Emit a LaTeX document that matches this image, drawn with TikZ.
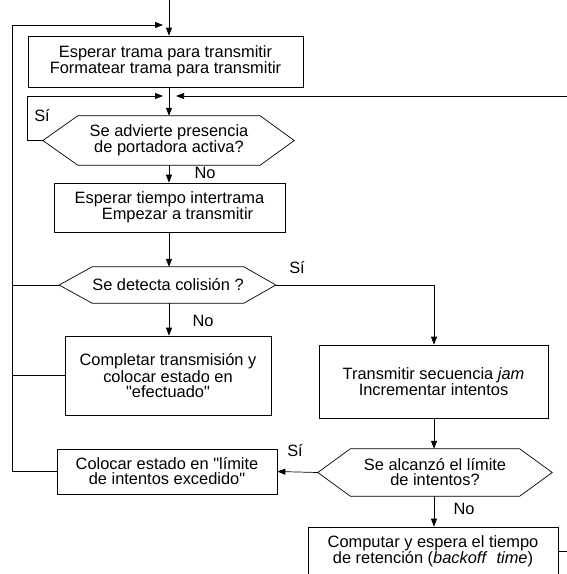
\documentclass[tikz,border=0pt]{standalone}
\usepackage{fontspec}
\setmainfont{Liberation Sans}
\usetikzlibrary{arrows.meta}
\begin{document}
\begin{tikzpicture}[x=1pt,y=-1pt,
  every node/.style={font=\fontsize{16.4}{15}\selectfont},
  proc/.style={draw, line width=0.7pt, inner sep=0pt, align=center},
  cond/.style={inner sep=0pt, align=center},
  hexline/.style={draw, line width=0.7pt, line join=miter},
  link/.style={line width=0.7pt},
  arr/.style={link, -{Triangle[length=8pt,width=6pt]}},
  lbl/.style={inner sep=0pt}]
\useasboundingbox (0,0) rectangle (567,574);
\clip (0,0) rectangle (567,574);

% process boxes
\node[proc, minimum width=275pt, minimum height=51pt] (b1) at (165.5,61.5)
  {Esperar trama para transmitir\\Formatear trama para transmitir};
\node[proc, minimum width=231pt, minimum height=49pt] (b2) at (169.5,207.5)
  {Esperar tiempo intertrama\\\hspace*{16pt}Empezar a transmitir};
\node[proc, minimum width=206pt, minimum height=79pt] (b3) at (168,375.5)
  {Completar transmisión y\\colocar estado en\\\textquotedbl efectuado\textquotedbl};
\node[proc, minimum width=229pt, minimum height=73pt] (b4) at (433.5,381.5)
  {Transmitir secuencia \textit{jam}\\Incrementar intentos};
\node[proc, minimum width=220pt, minimum height=45pt] (b5) at (167,471.5)
  {Colocar estado en \textquotedbl límite\\de intentos excedido\textquotedbl};
\node[proc, minimum width=250pt, minimum height=48pt] (b6) at (433,551)
  {Computar y espera el tiempo\\de retención (\textit{backoff}\ \ \textit{time})};

% decision hexagons: text nodes plus their outlines
\node[cond, minimum width=182pt, minimum height=49pt] (d1) at (169,140.5)
  {Se advierte presencia\\de portadora activa?};
\node[cond, minimum width=150pt, minimum height=36pt] (d2) at (168,285)
  {Se detecta colisión ?};
\node[cond, minimum width=169pt, minimum height=47pt] (d3) at (435,472.5)
  {Se alcanzó el límite\\de intentos?};

\coordinate (d1w) at ([xshift=-35pt]d1.west);
\coordinate (d1e) at ([xshift=34pt]d1.east);
\coordinate (d2w) at ([xshift=-33pt]d2.west);
\coordinate (d2e) at ([xshift=32pt]d2.east);
\coordinate (d3w) at ([xshift=-32.5pt]d3.west);
\coordinate (d3e) at ([xshift=32.5pt]d3.east);

\draw[hexline] (d1w) -- (d1.north west) -- (d1.north east) -- (d1e)
  -- (d1.south east) -- (d1.south west) -- cycle;
\draw[hexline] (d2w) -- (d2.north west) -- (d2.north east) -- (d2e)
  -- (d2.south east) -- (d2.south west) -- cycle;
\draw[hexline] (d3w) -- (d3.north west) -- (d3.north east) -- (d3e)
  -- (d3.south east) -- (d3.south west) -- cycle;

% routing coordinates
\coordinate (in) at (169,0);
\coordinate (c2) at (434,0);
\coordinate (lx) at (12,0);
\coordinate (sx) at (27,0);
\coordinate (rx) at (590,0);
\coordinate (tl) at (163,25);
\coordinate (ml) at (163,96);
\coordinate (mr) at (176,96);

% main flow
\draw[arr] (in) -- (in |- b1.north);
\draw[arr] (in |- b1.south) -- (in |- d1.north);
\draw[arr] (in |- d1.south) -- (in |- b2.north);
\draw[arr] (in |- b2.south) -- (in |- d2.north);
\draw[arr] (in |- d2.south) -- (in |- b3.north);
\draw[arr] (d2e) -- (c2 |- d2e) -- (c2 |- b4.north);
\draw[arr] (c2 |- b4.south) -- (c2 |- d3.north);
\draw[arr] (c2 |- d3.south) -- (c2 |- b6.north);
\draw[arr] (d3w) -- (b5.east);

% return paths
\draw[arr] (d1w) -- (sx |- d1w) -- (sx |- ml) -- (ml);
\draw[arr] (b6.east) -- (rx |- b6.east) -- (rx |- mr) -- (mr);
\draw[arr] (b5.west) -- (lx |- b5.west) -- (lx |- tl) -- (tl);
\draw[link] (d2w) -- (lx |- d2w);
\draw[link] (b3.west) -- (lx |- b3.west);

% branch labels
\node[lbl] (s1) at (42,116) {Sí};
\node[lbl] (n1) at (205,173) {No};
\node[lbl] (s2) at (297,268) {Sí};
\node[lbl] (n2) at (203,321) {No};
\node[lbl] (s3) at (295,451) {Sí};
\node[lbl] (n3) at (464,509) {No};
\end{tikzpicture}
\end{document}
